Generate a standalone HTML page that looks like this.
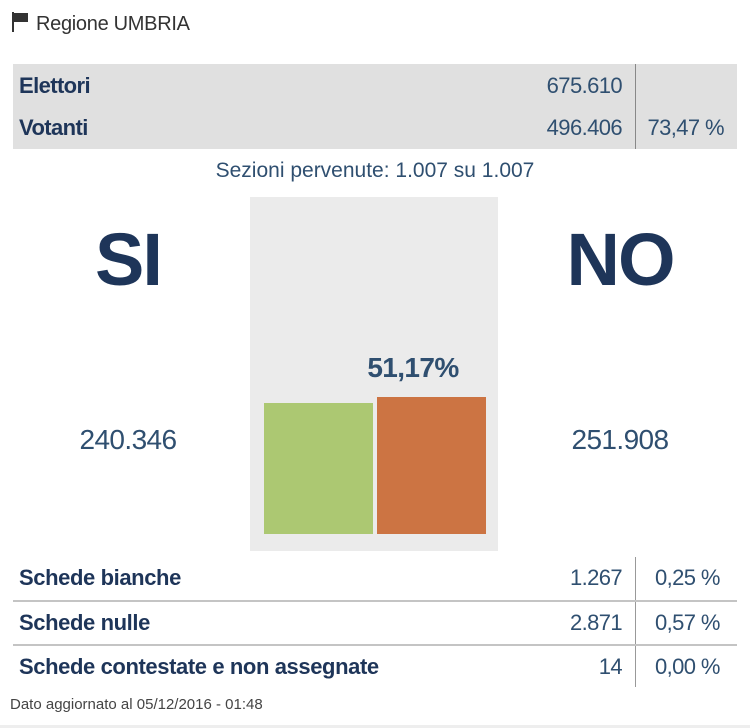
<!DOCTYPE html>
<html><head><meta charset="utf-8"><style>
body{margin:0;width:750px;height:728px;background:#fff;position:relative;overflow:hidden;font-family:"Liberation Sans",sans-serif;letter-spacing:-0.6px}
.a{position:absolute;white-space:nowrap;line-height:1}
.b{font-weight:bold;color:#1e3559}
.n{color:#2f4f70}
.r{text-align:right}
</style></head><body>
<svg class="a" style="left:11px;top:11px" width="20" height="22"><rect x="1" y="1" width="2" height="20" fill="#333"/><path d="M3 2 L17 2 L17 11 L3 11 Z" fill="#333"/></svg>
<div class="a" style="left:36px;top:14px;font-size:20px;color:#333;letter-spacing:-0.3px">Regione UMBRIA</div>

<div class="a" style="left:13px;top:64px;width:724px;height:85px;background:#e0e0e0"></div>
<div class="a" style="left:635px;top:64px;width:1px;height:85px;background:#888"></div>
<div class="a b" style="left:19px;top:75px;font-size:22px">Elettori</div>
<div class="a n r" style="left:422px;width:200px;top:75px;font-size:22px">675.610</div>
<div class="a b" style="left:19px;top:117px;font-size:22px">Votanti</div>
<div class="a n r" style="left:422px;width:200px;top:117px;font-size:22px">496.406</div>
<div class="a n r" style="left:624px;width:100px;top:117px;font-size:22px">73,47 %</div>

<div class="a n" style="left:0;width:750px;text-align:center;top:160px;font-size:21px;letter-spacing:0">Sezioni pervenute: 1.007 su 1.007</div>

<div class="a" style="left:250px;top:197px;width:248px;height:354px;background:#ebebeb"></div>
<div class="a b" style="left:28px;width:200px;text-align:center;top:223px;font-size:74px;letter-spacing:-2px">SI</div>
<div class="a b" style="left:520px;width:200px;text-align:center;top:223px;font-size:74px;letter-spacing:-2px">NO</div>
<div class="a n" style="left:28px;width:200px;text-align:center;top:426px;font-size:28px">240.346</div>
<div class="a n" style="left:520px;width:200px;text-align:center;top:426px;font-size:28px">251.908</div>
<div class="a n" style="left:313px;width:200px;text-align:center;top:354px;font-size:28px;font-weight:bold">51,17%</div>
<div class="a" style="left:264px;top:403px;width:109px;height:131px;background:#acc872"></div>
<div class="a" style="left:377px;top:397px;width:109px;height:137px;background:#cc7443"></div>

<div class="a" style="left:635px;top:557px;width:1px;height:130px;background:#999"></div>
<div class="a" style="left:13px;top:600px;width:724px;height:2px;background:#c4c4c4"></div>
<div class="a" style="left:13px;top:644px;width:724px;height:2px;background:#c4c4c4"></div>
<div class="a b" style="left:19px;top:567px;font-size:22px;letter-spacing:-0.4px">Schede bianche</div>
<div class="a n r" style="left:422px;width:200px;top:567px;font-size:22px">1.267</div>
<div class="a n" style="left:655px;top:567px;font-size:22px">0,25 %</div>
<div class="a b" style="left:19px;top:612px;font-size:22px;letter-spacing:-0.4px">Schede nulle</div>
<div class="a n r" style="left:422px;width:200px;top:612px;font-size:22px">2.871</div>
<div class="a n" style="left:655px;top:612px;font-size:22px">0,57 %</div>
<div class="a b" style="left:19px;top:656px;font-size:22px;letter-spacing:-0.4px">Schede contestate e non assegnate</div>
<div class="a n r" style="left:422px;width:200px;top:656px;font-size:22px">14</div>
<div class="a n" style="left:655px;top:656px;font-size:22px">0,00 %</div>

<div class="a" style="left:10px;top:697px;font-size:15px;color:#444;letter-spacing:0">Dato aggiornato al 05/12/2016 - 01:48</div>
<div class="a" style="left:0;top:725px;width:750px;height:3px;background:#eee"></div>
</body></html>
